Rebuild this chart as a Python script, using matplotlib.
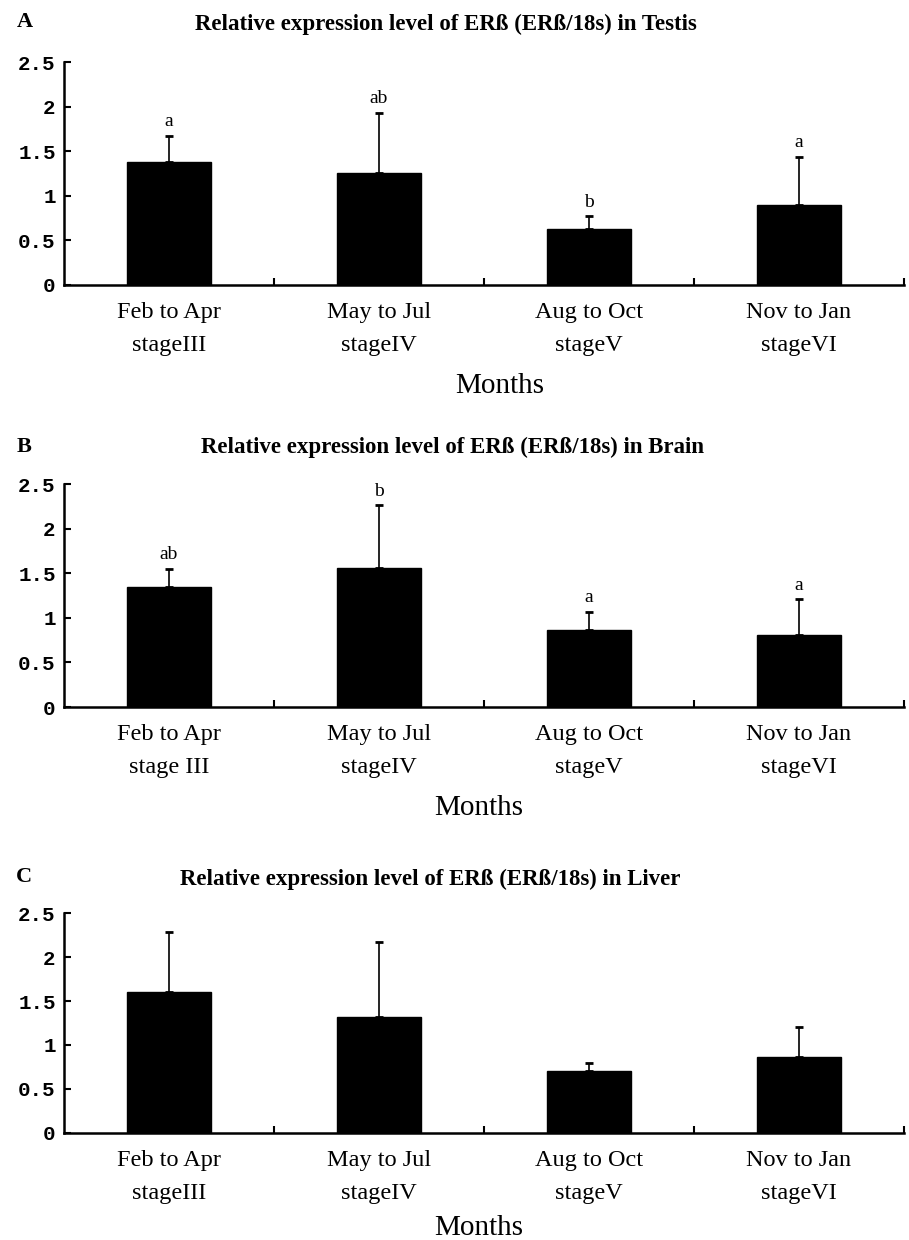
import matplotlib
matplotlib.use('Agg')
import matplotlib.pyplot as plt

# data
months = ['Feb to Apr', 'May to Jul', 'Aug to Oct', 'Nov to Jan']
stagesA = ['stageIII', 'stageIV', 'stageV', 'stageVI']
stagesB = ['stage III', 'stageIV', 'stageV', 'stageVI']
stagesC = ['stageIII', 'stageIV', 'stageV', 'stageVI']

testis = [1.38, 1.26, 0.63, 0.90]
testis_err = [0.29, 0.67, 0.14, 0.54]
testis_sig = ['a', 'ab', 'b', 'a']

brain = [1.35, 1.56, 0.86, 0.81]
brain_err = [0.20, 0.70, 0.21, 0.40]
brain_sig = ['ab', 'b', 'a', 'a']

liver = [1.60, 1.32, 0.71, 0.86]
liver_err = [0.68, 0.85, 0.09, 0.34]
liver_sig = ['', '', '', '']

panels = [
    ('A', 'Testis', testis, testis_err, testis_sig, stagesA),
    ('B', 'Brain', brain, brain_err, brain_sig, stagesB),
    ('C', 'Liver', liver, liver_err, liver_sig, stagesC),
]

# layout: axes box, title x, title baseline, letter baseline (fig frac),
# xlabel x (axes frac), xlabel baseline below axis (px)
boxes = [
    ([0.0704, 0.7702, 0.924, 0.1798], 0.491, 0.9758, 0.9782, 0.519, 108),
    ([0.0704, 0.4298, 0.924, 0.1798], 0.498, 0.6347, 0.6355, 0.494, 108),
    ([0.0704, 0.0863, 0.924, 0.1774], 0.473, 0.2863, 0.2887, 0.494, 102),
]

serif = 'Liberation Serif'
mono = 'Liberation Mono'
px = 72 / 100  # points per pixel at dpi 100

fig = plt.figure(figsize=(9.09, 12.4), dpi=100)

for (letter, tissue, vals, errs, sig, stages), (box, tx, ty, ly, lx, mdy) in zip(panels, boxes):
    ax = fig.add_axes(box)
    x = range(len(vals))
    ax.bar(x, vals, width=0.4, color='black', edgecolor='black', zorder=2)
    ax.errorbar(x, vals, yerr=[[0] * len(errs), errs], fmt='none', ecolor='black',
                elinewidth=1.2, capsize=3, capthick=2, zorder=3)
    for i in x:
        if sig[i]:
            ax.annotate(sig[i], (i, vals[i] + errs[i]), xytext=(0, 4),
                        textcoords='offset points', ha='center', va='bottom',
                        fontsize=14, family=serif)

    ax.set_xlim(-0.5, 3.5)
    ax.set_ylim(0, 2.5)
    ax.set_yticks([0, 0.5, 1, 1.5, 2, 2.5])
    ax.set_yticklabels(['0', '0.5', '1', '1.5', '2', '2.5'], family=mono,
                       fontsize=15, fontweight='bold')
    ax.set_xticks(list(x))
    ax.set_xticklabels([m + '\n' + s for m, s in zip(months, stages)],
                       family=serif, fontsize=17.5, linespacing=1.75)
    # baseline of the last (stage) line sits 66 px below the axis
    for lbl in ax.get_xticklabels():
        lbl.set_verticalalignment('baseline')
    ax.set_xticks([0.5, 1.5, 2.5, 3.5], minor=True)
    ax.tick_params(axis='x', which='major', length=0, pad=66 * px)
    ax.tick_params(axis='x', which='minor', direction='in', length=5, width=1.5)
    ax.tick_params(axis='y', direction='in', length=5, width=1.5, pad=6)
    ax.set_xlabel('Months', family=serif, fontsize=21, va='baseline')
    ax.xaxis.set_label_coords(lx, -mdy / (box[3] * 1240))
    for s in ['top', 'right']:
        ax.spines[s].set_visible(False)
    for s in ['left', 'bottom']:
        ax.spines[s].set_linewidth(1.8)

    fig.text(tx, ty, 'Relative expression level of ER\u00df (ER\u00df/18s) in ' + tissue,
             ha='center', va='baseline', family=serif, fontsize=16.5, fontweight='bold')
    fig.text(0.018, ly, letter, ha='left', va='baseline', family=serif,
             fontsize=16, fontweight='bold')

fig.savefig('out.png', dpi=100)
